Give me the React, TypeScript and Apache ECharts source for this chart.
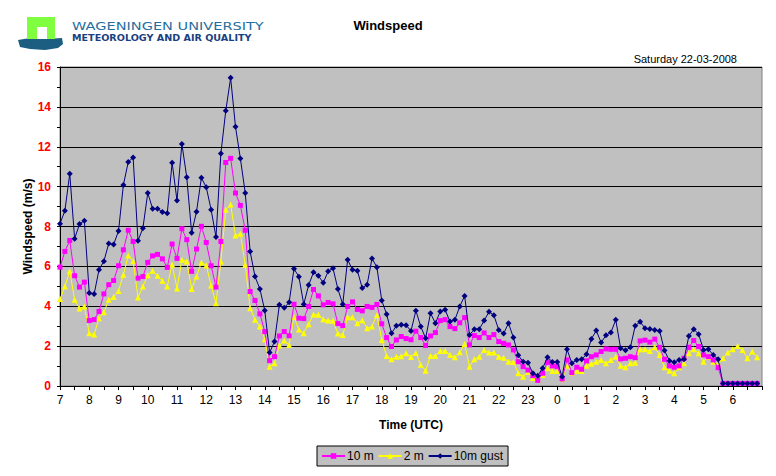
import React, { useEffect, useRef } from "react";
import * as echarts from "echarts";

// Hour tick labels (UTC), 22-03-2008 07:00 to 23-03-2008 07:00, 10-minute data
const hourLabels = ["7", "8", "9", "10", "11", "12", "13", "14", "15", "16", "17", "18", "19", "20", "21", "22", "23", "0", "1", "2", "3", "4", "5", "6"];
const minuteSteps = ["00", "10", "20", "30", "40", "50"];
const endLabel = "7:00";

const wind10m = [
  5.96, 6.75, 7.30, 5.53, 4.96, 5.21, 3.28, 3.33, 3.74, 4.62, 5.08, 5.29,
  6.03, 6.83, 7.81, 7.25, 5.41, 5.49, 6.20, 6.53, 6.60, 6.38, 5.95, 7.12,
  6.40, 7.89, 7.34, 5.75, 6.87, 8.01, 7.20, 6.03, 4.96, 7.25, 11.21, 11.42,
  9.68, 9.06, 7.81, 4.74, 4.29, 3.62, 2.73, 1.27, 1.47, 2.51, 2.73, 2.52,
  4.10, 3.40, 3.38, 3.99, 4.84, 4.52, 4.07, 4.19, 4.12, 3.13, 3.03, 3.99,
  4.22, 3.84, 3.77, 3.99, 3.94, 4.09, 3.12, 2.43, 1.98, 2.31, 2.48, 2.38,
  2.32, 2.75, 2.43, 2.03, 2.51, 2.68, 3.28, 3.33, 2.98, 2.88, 3.17, 3.43,
  2.06, 2.53, 2.43, 2.66, 2.43, 2.58, 2.23, 2.14, 2.06, 1.81, 1.22, 0.97,
  0.80, 0.52, 0.28, 0.64, 1.19, 1.01, 0.97, 0.35, 1.31, 0.67, 0.94, 0.84,
  1.26, 1.47, 1.56, 1.73, 1.86, 1.84, 1.84, 1.36, 1.39, 1.47, 1.42, 2.26,
  2.30, 2.20, 2.35, 1.94, 1.34, 1.01, 0.94, 1.01, 1.39, 1.94, 2.28, 1.98,
  1.56, 1.47, 1.31, 0.92, 0.13, 0.13, 0.13, 0.13, 0.13, 0.13, 0.13, 0.13,
];

const wind2m = [
  4.36, 4.99, 5.75, 4.32, 3.89, 3.99, 2.65, 2.58, 3.40, 3.70, 4.32, 4.46,
  4.77, 5.58, 6.55, 6.26, 4.44, 4.99, 5.56, 5.78, 5.53, 5.28, 4.99, 6.10,
  4.89, 6.33, 6.25, 4.86, 5.49, 6.20, 6.05, 5.04, 4.15, 6.25, 8.84, 9.10,
  7.55, 7.64, 6.08, 3.90, 3.32, 2.98, 2.35, 0.97, 1.14, 2.03, 2.28, 2.06,
  3.46, 2.83, 2.65, 3.10, 3.58, 3.57, 3.35, 3.28, 3.27, 2.63, 2.56, 3.45,
  3.45, 3.15, 3.30, 2.90, 2.98, 3.55, 2.31, 1.51, 1.34, 1.47, 1.49, 1.64,
  1.46, 1.66, 1.06, 0.77, 1.51, 1.51, 1.76, 1.76, 1.56, 1.44, 1.69, 2.11,
  0.97, 1.34, 1.47, 1.81, 1.68, 1.68, 1.47, 1.42, 1.22, 1.21, 0.64, 0.47,
  0.70, 0.40, 0.33, 0.55, 0.89, 0.75, 0.75, 0.35, 1.01, 0.67, 0.75, 0.75,
  1.01, 1.11, 1.22, 1.31, 1.14, 1.31, 1.47, 1.01, 0.94, 1.14, 1.17, 1.84,
  1.84, 1.75, 1.94, 1.56, 0.94, 0.77, 0.64, 0.94, 1.14, 1.64, 1.84, 1.64,
  1.22, 1.47, 1.22, 1.09, 1.39, 1.68, 1.84, 2.01, 1.81, 1.39, 1.73, 1.44,
];

const wind10mGust = [
  8.14, 8.79, 10.65, 7.39, 8.12, 8.29, 4.66, 4.61, 5.83, 6.26, 7.15, 7.10,
  7.77, 10.08, 11.24, 11.46, 7.29, 7.91, 9.68, 8.89, 8.89, 8.73, 8.66, 11.20,
  9.30, 12.14, 10.47, 7.69, 8.74, 10.44, 9.97, 8.84, 7.47, 11.66, 13.80, 15.46,
  13.00, 11.41, 9.68, 6.75, 5.49, 4.87, 3.79, 1.68, 2.23, 4.07, 3.92, 4.20,
  5.88, 5.48, 4.10, 5.06, 5.70, 5.53, 5.18, 5.75, 5.91, 4.86, 4.10, 6.33,
  5.83, 5.78, 4.91, 5.08, 6.40, 5.96, 4.29, 3.60, 2.65, 3.02, 3.07, 3.05,
  2.76, 3.78, 2.98, 2.40, 3.65, 3.15, 3.74, 3.82, 3.23, 3.32, 3.99, 4.52,
  2.56, 2.85, 2.85, 3.28, 3.72, 3.55, 2.81, 2.63, 3.15, 2.43, 1.54, 1.22,
  1.16, 0.64, 0.52, 0.89, 1.44, 1.21, 1.21, 0.47, 1.84, 1.14, 1.31, 1.34,
  1.59, 2.36, 2.78, 2.18, 2.55, 2.68, 3.32, 1.89, 1.79, 1.94, 3.02, 3.22,
  2.90, 2.86, 2.81, 2.76, 1.78, 1.27, 1.19, 1.31, 1.34, 2.51, 2.85, 2.60,
  1.81, 1.84, 1.56, 1.34, 0.13, 0.13, 0.13, 0.13, 0.13, 0.13, 0.13, 0.13,
];

const yTicks = { min: 0, max: 16, interval: 2 };

const categories: string[] = hourLabels
  .flatMap((h) => minuteSteps.map((m) => `${h}:${m}`))
  .concat([endLabel]);

const FONT = "'Liberation Sans', Arial, sans-serif";

export default function App() {
  const ref = useRef<HTMLDivElement>(null);

  useEffect(() => {
    if (!ref.current) return;
    const chart = echarts.init(ref.current, undefined, { renderer: "svg" });
    const lastIdx = categories.length - 1;

    chart.setOption({
      animation: false,
      backgroundColor: "#ffffff",
      textStyle: { fontFamily: FONT },
      grid: {
        left: 60,
        right: 14,
        top: 67,
        bottom: 90,
        show: true,
        backgroundColor: "#C0C0C0",
        borderColor: "#808080",
        borderWidth: 1,
      },
      legend: {
        left: 317,
        top: 446,
        orient: "horizontal",
        backgroundColor: "#C0C0C0",
        borderColor: "#000000",
        borderWidth: 1,
        padding: [4, 5, 4, 4],
        itemGap: 4,
        itemWidth: 23,
        itemHeight: 7,
        textStyle: { fontFamily: FONT, fontSize: 12, color: "#000", padding: [0, 0, 0, -3] },
        data: ["10 m", "2 m", "10m gust"],
      },
      xAxis: {
        type: "category",
        data: categories,
        boundaryGap: false,
        name: "Time (UTC)",
        nameLocation: "middle",
        nameGap: 33,
        nameTextStyle: { fontFamily: FONT, fontSize: 12, fontWeight: "bold", color: "#000" },
        axisLine: { lineStyle: { color: "#000", width: 1 } },
        axisTick: {
          interval: (i: number) => i % 3 === 0,
          length: 4,
          lineStyle: { color: "#000" },
        },
        axisLabel: {
          interval: (i: number) => i % 6 === 0 && i < lastIdx,
          formatter: (v: string) => v.split(":")[0],
          fontFamily: FONT,
          fontSize: 12,
          color: "#000",
          margin: 8,
        },
        splitLine: { show: false },
      },
      yAxis: {
        type: "value",
        min: yTicks.min,
        max: yTicks.max,
        interval: yTicks.interval,
        name: "Windspeed (m/s)",
        nameLocation: "middle",
        nameGap: 26,
        nameMoveOverlap: false,
        nameTextStyle: { fontFamily: FONT, fontSize: 12, fontWeight: "bold", color: "#000" },
        axisLine: { show: true, lineStyle: { color: "#000", width: 1 } },
        axisTick: { show: true, length: 3, lineStyle: { color: "#000" } },
        minorTick: { show: true, splitNumber: 2, length: 3, lineStyle: { color: "#000" } },
        axisLabel: {
          fontFamily: FONT,
          fontSize: 12,
          fontWeight: "bold",
          color: "#FF0000",
          margin: 9,
        },
        splitLine: { show: true, lineStyle: { color: "#000", width: 1 } },
      },
      series: [
        {
          name: "10 m",
          type: "line",
          data: wind10m,
          symbol: "rect",
          symbolSize: 5,
          showAllSymbol: true,
          itemStyle: { color: "#FF00FF" },
          lineStyle: { color: "#FF00FF", width: 1 },
          z: 3,
        },
        {
          name: "2 m",
          type: "line",
          data: wind2m,
          symbol: "triangle",
          symbolSize: 6,
          showAllSymbol: true,
          itemStyle: { color: "#FFFF00" },
          lineStyle: { color: "#FFFF00", width: 1 },
          z: 2,
        },
        {
          name: "10m gust",
          type: "line",
          data: wind10mGust,
          symbol: "diamond",
          symbolSize: 6,
          showAllSymbol: true,
          itemStyle: { color: "#000080" },
          lineStyle: { color: "#000080", width: 1 },
          z: 4,
        },
      ],
      graphic: [
        {
          type: "polygon",
          shape: {
            points: [
              [18, 40], [30, 38], [45, 39], [62, 38], [63, 44],
              [58, 48], [45, 50], [30, 49], [20, 47],
            ],
          },
          style: { fill: "#1B5E82" },
        },
        { type: "rect", shape: { x: 27, y: 17, width: 28, height: 22 }, style: { fill: "#80FF40" } },
        { type: "rect", shape: { x: 37, y: 27, width: 10, height: 12 }, style: { fill: "#FFFFFF" } },
        {
          type: "text",
          x: 72,
          y: 26,
          scaleX: 1.32,
          style: {
            text: "WAGENINGEN UNIVERSITY",
            fill: "#1F6FA0",
            font: "normal 11px 'DejaVu Sans', sans-serif",
            verticalAlign: "middle",
          },
        },
        {
          type: "text",
          x: 72,
          y: 38.5,
          scaleX: 1.2,
          style: {
            text: "METEOROLOGY AND AIR QUALITY",
            fill: "#1A3F80",
            font: "bold 8px 'DejaVu Sans', sans-serif",
            verticalAlign: "middle",
          },
        },
        {
          type: "text",
          x: 388,
          y: 25,
          style: {
            text: "Windspeed",
            fill: "#000",
            font: `bold 13px ${FONT}`,
            align: "center",
            verticalAlign: "middle",
          },
        },
        {
          type: "text",
          x: 737,
          y: 59,
          style: {
            text: "Saturday 22-03-2008",
            fill: "#000",
            font: `normal 11px ${FONT}`,
            align: "right",
            verticalAlign: "middle",
          },
        },
      ],
    });

    return () => chart.dispose();
  }, []);

  return (
    <div
      ref={ref}
      style={{ position: "fixed", left: 0, top: 0, width: 776, height: 476, background: "#fff" }}
    />
  );
}
